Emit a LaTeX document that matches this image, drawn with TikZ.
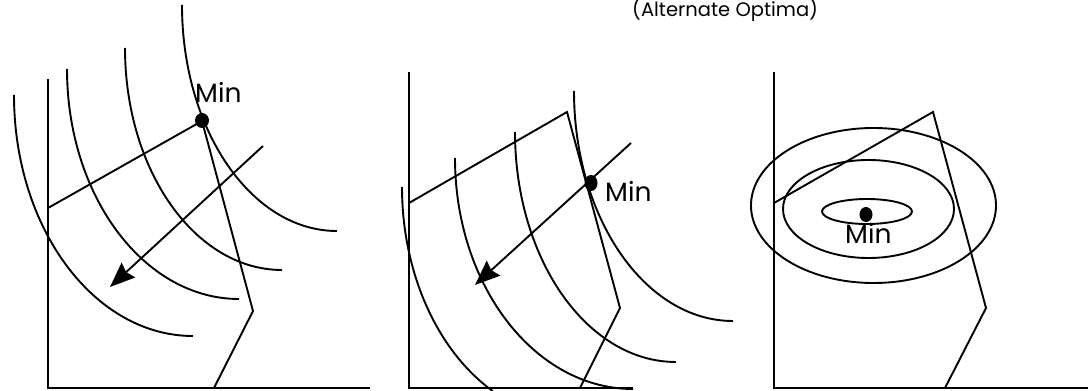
\documentclass[tikz,border=0pt]{standalone}
\usepackage{fontspec}
\setmainfont{Poppins}
\usetikzlibrary{arrows.meta,shapes.geometric}
\begin{document}
\begin{tikzpicture}[x=1pt,y=1pt,line join=miter,
  ln/.style={line width=1.9pt},
  ax/.style={line width=2.2pt},
  dot/.style={ellipse,fill=black,draw=none,inner sep=0pt,minimum width=14pt,minimum height=15pt},
  lbl/.style={font=\fontsize{26.5}{30}\selectfont,inner sep=0pt,anchor=base west},
  arr/.style={line width=1.9pt,-{Stealth[length=25pt,width=20pt,inset=3pt]}}]
\useasboundingbox (0,0) rectangle (1090,391);

% title
\node[anchor=base west,font=\fontsize{19.5}{23}\selectfont,inner sep=0pt] (title) at (632,374) {(Alternate Optima)};

% ---------- panel 1 ----------
\draw[ax] (48,312) -- (48,3) -- (370,3);
\draw[ln] (14,296) arc[start angle=180,end angle=270,x radius=179,y radius=241];
\draw[ln] (67,322) arc[start angle=180,end angle=270,x radius=172,y radius=230];
\draw[ln] (125,343) arc[start angle=180,end angle=270,x radius=157,y radius=222];
\draw[ln] (182,386) arc[start angle=180,end angle=270,x radius=155,y radius=226];
\draw[ln] (48,183) -- (202,270) -- (253,80) -- (214,3);
\coordinate (a1s) at (263,245);
\coordinate (a1e) at (110,104);
\draw[arr] (a1s) -- (a1e);
\node[dot] (m1) at (202,270.5) {};
\node[lbl] (t1) at (195,288) {Min};

% ---------- panel 2 ----------
\draw[ax] (409,319) -- (409,3) -- (633,3);
\draw[ln] (402,204) arc[start angle=180,end angle=241.6,x radius=173,y radius=232];
\draw[ln] (455,233) arc[start angle=180,end angle=270,x radius=178,y radius=231];
\draw[ln] (515,259) arc[start angle=180,end angle=270,x radius=161,y radius=230];
\draw[ln] (574,300) arc[start angle=180,end angle=270,x radius=159,y radius=230];
\draw[ln] (409,188) -- (567,279) -- (620,83) -- (580,3);
\coordinate (a2s) at (631,248);
\coordinate (a2e) at (475,106);
\draw[arr] (a2s) -- (a2e);
\node[dot,minimum width=13pt,minimum height=16pt] (m2) at (591,208) {};
\node[lbl] (t2) at (605,189) {Min};

% ---------- panel 3 ----------
\draw[ax] (774,319) -- (774,3) -- (1088,3);
\draw[ln] (873.5,185.5) ellipse[x radius=122.5,y radius=77.5];
\draw[ln] (868.5,182) ellipse[x radius=85.5,y radius=49];
\draw[ln] (867,179.5) ellipse[x radius=45,y radius=12.5];
\draw[ln] (774,188) -- (933,279) -- (986,83) -- (945,3);
\node[dot,minimum width=13pt,minimum height=15pt] (m3) at (866,176.5) {};
\node[lbl] (t3) at (845,147) {Min};
\end{tikzpicture}
\end{document}
